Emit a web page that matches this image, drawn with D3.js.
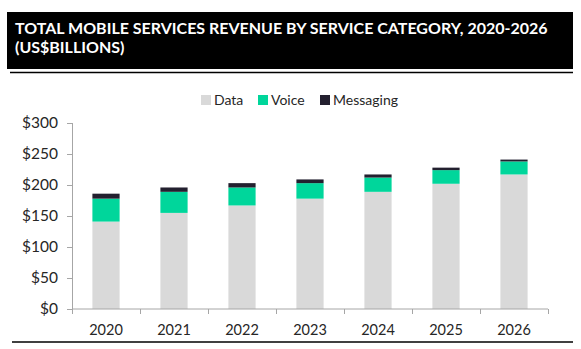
<!DOCTYPE html>
<html>
<head>
<meta charset="utf-8">
<script src="https://cdn.jsdelivr.net/npm/d3@7"></script>
<style>
  body { margin: 0; background: #fff; }
  svg { display: block; font-family: Lato, "Open Sans", sans-serif; }
</style>
</head>
<body>
<div id="chart"></div>
<script>
const years = ["2020", "2021", "2022", "2023", "2024", "2025", "2026"];
const dataRev = [141, 155, 167, 178, 189, 202, 217];
const voiceRev = [37, 34, 29, 25, 23, 22, 21];
const messagingRev = [8, 7, 7, 6, 5, 4, 3];
const yTicks = [0, 50, 100, 150, 200, 250, 300];
const seriesNames = ["Data", "Voice", "Messaging"];

const width = 581, height = 349;
const margin = { top: 123, right: 33, bottom: 40, left: 72 };

const rows = years.map((y, i) => ({
    year: y, Data: dataRev[i], Voice: voiceRev[i], Messaging: messagingRev[i]
}));

const color = d3.scaleOrdinal()
    .domain(seriesNames)
    .range(["#d9d9d9", "#00d69b", "#23202f"]);

const svg = d3.select("#chart").append("svg")
    .attr("width", width).attr("height", height);

// title banner
svg.append("rect")
    .attr("x", 7).attr("y", 12).attr("width", 566).attr("height", 57)
    .attr("fill", "#000");
svg.append("line")
    .attr("x1", 10).attr("x2", 573).attr("y1", 72.5).attr("y2", 72.5)
    .attr("stroke", "#000").attr("stroke-width", 1.5);
const title = svg.append("text")
    .attr("fill", "#fff").attr("font-weight", "bold").attr("font-size", 16);
title.append("tspan").attr("x", 15).attr("y", 34)
    .text("TOTAL MOBILE SERVICES REVENUE BY SERVICE CATEGORY, 2020-2026");
title.append("tspan").attr("x", 15).attr("y", 53).text("(US$BILLIONS)");

const x = d3.scaleBand()
    .domain(years)
    .range([margin.left, width - margin.right])
    .paddingInner(0.6).paddingOuter(0.3);

const y = d3.scaleLinear()
    .domain([0, 300])
    .range([height - margin.bottom, margin.top]);

const stacked = d3.stack().keys(seriesNames)(rows);

svg.append("g")
    .selectAll("g")
    .data(stacked)
    .enter().append("g")
    .attr("fill", d => color(d.key))
    .selectAll("rect")
    .data(d => d)
    .enter().append("rect")
    .attr("x", d => x(d.data.year))
    .attr("y", d => y(d[1]))
    .attr("width", x.bandwidth())
    .attr("height", d => y(d[0]) - y(d[1]));

// y axis
const yAxis = svg.append("g")
    .attr("transform", `translate(${margin.left},0)`)
    .call(d3.axisLeft(y).tickValues(yTicks).tickSize(5).tickPadding(9)
        .tickFormat(d => "$" + d));
yAxis.selectAll("line, path").attr("stroke", "#a6a6a6");
yAxis.select("path").attr("d", `M0.5,${y(300)}V${y(0)}`);
yAxis.selectAll("text").attr("font-size", 15.5).attr("fill", "#262626")
    .attr("font-family", "Lato, sans-serif");

// x axis with ticks at category boundaries
const step = x.step();
const xAxisG = svg.append("g")
    .attr("transform", `translate(0,${y(0)})`);
xAxisG.append("line")
    .attr("x1", margin.left).attr("x2", width - margin.right)
    .attr("stroke", "#a6a6a6");
xAxisG.selectAll("line.tick")
    .data(d3.range(years.length + 1))
    .enter().append("line")
    .attr("class", "tick")
    .attr("x1", i => margin.left + i * step + 0.5)
    .attr("x2", i => margin.left + i * step + 0.5)
    .attr("y1", 0).attr("y2", 5)
    .attr("stroke", "#a6a6a6");
xAxisG.selectAll("text")
    .data(years)
    .enter().append("text")
    .attr("x", d => x(d) + x.bandwidth() / 2)
    .attr("y", 26)
    .attr("text-anchor", "middle")
    .attr("font-size", 14.5).attr("fill", "#262626")
    .text(d => d);

// bottom rule
svg.append("line")
    .attr("x1", 12).attr("x2", 573).attr("y1", 342).attr("y2", 342)
    .attr("stroke", "#000").attr("stroke-width", 1.5);

// legend
const legendX = [201, 258, 320];
const legend = svg.append("g").selectAll("g")
    .data(seriesNames)
    .enter().append("g")
    .attr("transform", (d, i) => `translate(${legendX[i]},95)`);
legend.append("rect")
    .attr("width", 10).attr("height", 10)
    .attr("fill", d => color(d));
legend.append("text")
    .attr("x", 13).attr("y", 10)
    .attr("font-size", 14).attr("fill", "#262626")
    .text(d => d);
</script>
</body>
</html>
